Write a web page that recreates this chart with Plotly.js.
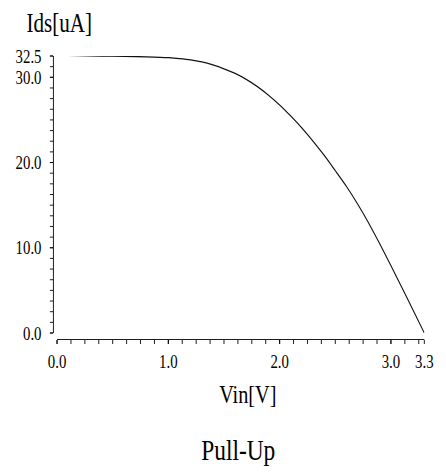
<!DOCTYPE html>
<html>
<head>
<meta charset="utf-8">
<script src="https://cdn.plot.ly/plotly-3.0.1.min.js"></script>
<style>
html,body{margin:0;padding:0;background:#fff;overflow:hidden;width:446px;height:476px;}
#plot{transform-origin:0 0;}
</style>
</head>
<body>
<div id="plot"></div>
<script>
// ---- data ----
const vin = [0, 0.2, 0.4, 0.6, 0.8, 1.0, 1.1, 1.2, 1.3, 1.4, 1.5, 1.6, 1.7, 1.8, 1.9, 2.0, 2.1, 2.2, 2.3, 2.4, 2.5, 2.6, 2.7, 2.8, 2.9, 3.0, 3.1, 3.2, 3.3];
const ids = [32.6, 32.55, 32.5, 32.47, 32.4, 32.3, 32.2, 32.05, 31.8, 31.45, 31.0, 30.45, 29.75, 28.9, 27.9, 26.75, 25.45, 24.05, 22.5, 20.85, 19.05, 17.2, 15.15, 12.9, 10.45, 7.9, 5.3, 2.65, 0];
const xTickVals = [0, 1, 2, 3, 3.3];
const xTickText = ["0.0", "1.0", "2.0", "3.0", "3.3"];
const yTickVals = [0, 10, 20, 30, 32.5];
const yTickText = ["0.0", "10.0", "20.0", "30.0", "32.5"];
const xTitle = "Vin[V]";
const yTitle = "Ids[uA]";
const chartTitle = "Pull-Up";

(function () {
  // ---- layout geometry ----
  const s = 0.78;              // horizontal compression of the reference
  const W = 446 / s;
  const pL = 53, pR = 424, pT = 56, pB = 339;
  const ml = pL / s, mr = W - pR / s;
  const px = x => (x - pL) / (pR - pL);
  const py = y => (pB - y) / (pB - pT);

  document.getElementById('plot').style.transform = 'scaleX(' + s + ')';

  const fam = 'Liberation Serif, Times New Roman, serif';
  const f = size => ({family: fam, color: '#000', size: size});

  const trace = {
    x: vin, y: ids, type: 'scatter', mode: 'lines',
    line: {color: '#111', width: 1.3, shape: 'spline', smoothing: 0.8},
    hoverinfo: 'skip'
  };

  const layout = {
    width: W, height: 476,
    margin: {l: ml, r: mr, t: pT, b: 476 - pB, pad: 0},
    paper_bgcolor: '#fff', plot_bgcolor: '#fff',
    showlegend: false,
    xaxis: {
      range: [0, 3.3], domain: [px(57), 1], anchor: 'free', position: 0,
      showgrid: false, zeroline: false, showline: true, linecolor: '#000', linewidth: 1,
      ticks: 'outside', ticklen: 4, tickwidth: 1, tickcolor: '#000',
      tickmode: 'array', tickvals: xTickVals, ticktext: xTickText,
      tickfont: f(19), ticklabelstandoff: 1,
      minor: {tickmode: 'linear', tick0: 0, dtick: 0.125, ticks: 'outside', ticklen: 4, tickcolor: '#000', tickwidth: 1, showgrid: false}
    },
    yaxis: {
      range: [0, 32.5], domain: [py(333), 1], anchor: 'free', position: 0,
      showgrid: false, zeroline: false, showline: true, linecolor: '#000', linewidth: 1,
      ticks: 'outside', ticklen: 4, tickwidth: 1, tickcolor: '#000',
      tickmode: 'array', tickvals: yTickVals, ticktext: yTickText,
      tickfont: f(19), ticklabelstandoff: 7,
      minor: {tickmode: 'linear', tick0: 0, dtick: 1.25, ticks: 'outside', ticklen: 4, tickcolor: '#000', tickwidth: 1, showgrid: false}
    },
    annotations: [
      {text: yTitle, xref: 'paper', yref: 'paper', x: px(59.5), y: py(23), xanchor: 'center', yanchor: 'middle', showarrow: false, font: f(27)},
      {text: xTitle, xref: 'paper', yref: 'paper', x: px(247.5), y: py(394), xanchor: 'center', yanchor: 'middle', showarrow: false, font: f(26)},
      {text: chartTitle, xref: 'paper', yref: 'paper', x: px(238), y: py(449), xanchor: 'center', yanchor: 'middle', showarrow: false, font: f(30)}
    ]
  };

  Plotly.newPlot('plot', [trace], layout, {staticPlot: true, displayModeBar: false});
})();
</script>
</body>
</html>
